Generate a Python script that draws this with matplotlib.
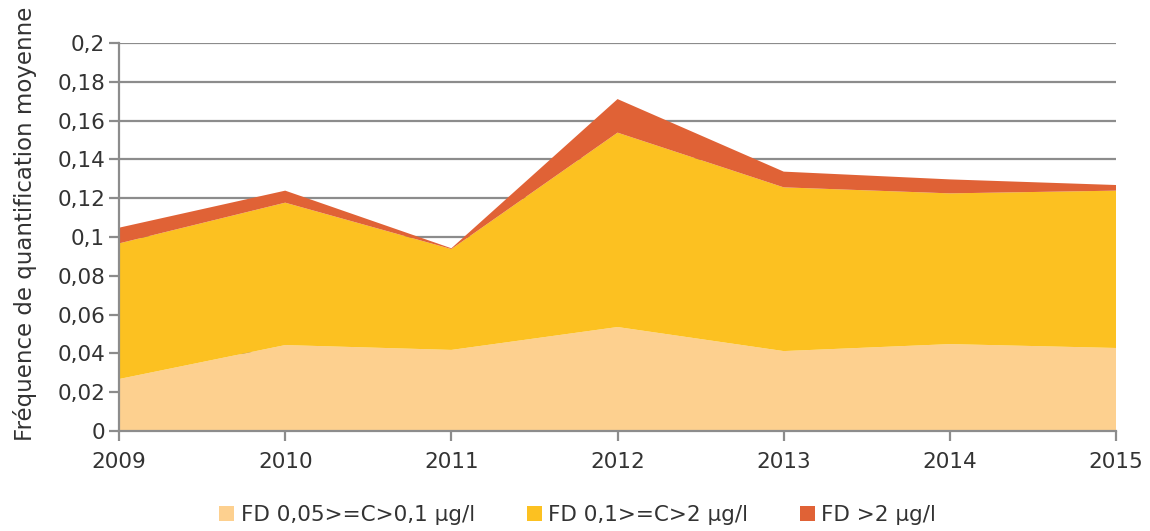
import numpy as np
import matplotlib.pyplot as plt
from matplotlib.ticker import FuncFormatter, MultipleLocator

years = [2009, 2010, 2011, 2012, 2013, 2014, 2015]
fd_low = [0.0268, 0.0443, 0.0418, 0.0536, 0.0412, 0.0448, 0.0428]
fd_mid = [0.0699, 0.0734, 0.0520, 0.1002, 0.0844, 0.0777, 0.0811]
fd_high = [0.0081, 0.0062, 0.0004, 0.0173, 0.0081, 0.0072, 0.0029]
labels = ["FD 0,05>=C>0,1 µg/l", "FD 0,1>=C>2 µg/l", "FD >2 µg/l"]
colors = ["#FDD08F", "#FCC121", "#E06236"]

plt.rcParams['font.family'] = ['DejaVu Sans']
text_col = "#333333"
grid_col = "#8C8C8C"

fig = plt.figure(figsize=(11.5, 5.31), dpi=100)
ax = fig.add_axes([0.1035, 0.1883, 0.8670, 0.7307])

ax.stackplot(years, fd_low, fd_mid, fd_high, colors=colors, labels=labels, zorder=2)

ax.set_xlim(2009, 2015)
ax.set_ylim(0, 0.2)
ax.yaxis.set_major_locator(MultipleLocator(0.02))
ax.set_xticks(years)
ax.yaxis.set_major_formatter(FuncFormatter(lambda v, p: ("%.2f" % v).rstrip("0").rstrip(".").replace(".", ",") if v else "0"))

ax.grid(axis="y", color=grid_col, linewidth=1.6, zorder=1)
ax.set_axisbelow(True)
for s in ["top", "right"]:
    ax.spines[s].set_visible(False)
for s in ["left", "bottom"]:
    ax.spines[s].set_color(grid_col)
    ax.spines[s].set_linewidth(1.6)
    ax.spines[s].set_zorder(3)

ax.tick_params(axis="both", colors=grid_col, width=1.6, length=7, labelcolor=text_col, labelsize=15.5)
ax.tick_params(axis="x", pad=8)
ax.tick_params(axis="y", pad=3)

ax.set_ylabel("Fréquence de quantification moyenne", fontsize=16.5, color=text_col, labelpad=2)
ax.yaxis.set_label_coords(-0.082, 0.535)

ax.legend(loc="upper center", bbox_to_anchor=(0.46, -0.14), ncol=3, frameon=False,
          fontsize=15.5, labelcolor=text_col, handlelength=0.7, handleheight=0.7,
          handletextpad=0.3, columnspacing=2.4)

fig.savefig("out.png", dpi=100)
